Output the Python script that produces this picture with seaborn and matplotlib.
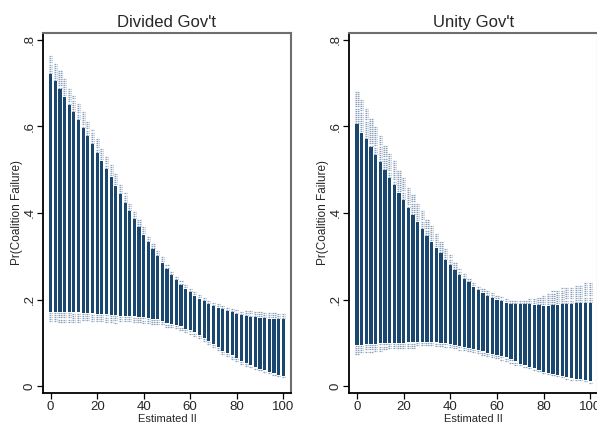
import numpy as np
import matplotlib
matplotlib.use("Agg")
import matplotlib.pyplot as plt
import seaborn as sns

# Estimated II values at which predictions were simulated
est_ii = list(range(0, 101, 2))

# Divided government: predicted range (bar) and outer confidence bounds (dashes)
div_hi = [0.721, 0.704, 0.687, 0.669, 0.650, 0.633, 0.615, 0.597, 0.578, 0.559,
          0.539, 0.521, 0.502, 0.484, 0.463, 0.443, 0.423, 0.404, 0.386, 0.367,
          0.350, 0.333, 0.316, 0.300, 0.285, 0.271, 0.257, 0.245, 0.234, 0.225,
          0.217, 0.209, 0.202, 0.196, 0.190, 0.185, 0.181, 0.177, 0.173, 0.170,
          0.167, 0.164, 0.162, 0.160, 0.159, 0.158, 0.157, 0.156, 0.156, 0.155,
          0.155]
div_lo = [0.172, 0.172, 0.171, 0.171, 0.171, 0.170, 0.170, 0.169, 0.169, 0.168,
          0.167, 0.167, 0.166, 0.165, 0.164, 0.163, 0.162, 0.162, 0.161, 0.160,
          0.159, 0.158, 0.156, 0.155, 0.150, 0.145, 0.143, 0.141, 0.138, 0.133,
          0.129, 0.124, 0.118, 0.112, 0.105, 0.098, 0.090, 0.082, 0.077, 0.071,
          0.065, 0.059, 0.053, 0.048, 0.043, 0.039, 0.036, 0.033, 0.029, 0.026,
          0.023]
div_ci_hi = [0.766, 0.748, 0.730, 0.711, 0.691, 0.673, 0.653, 0.634, 0.614, 0.593,
             0.572, 0.552, 0.532, 0.512, 0.490, 0.468, 0.447, 0.426, 0.407, 0.386,
             0.368, 0.350, 0.331, 0.314, 0.298, 0.283, 0.268, 0.256, 0.244, 0.235,
             0.227, 0.218, 0.211, 0.205, 0.199, 0.194, 0.191, 0.187, 0.184, 0.181,
             0.179, 0.176, 0.175, 0.173, 0.173, 0.172, 0.172, 0.171, 0.171, 0.171,
             0.171]
div_ci_lo = [0.146, 0.146, 0.146, 0.146, 0.147, 0.146, 0.147, 0.147, 0.147, 0.147,
             0.147, 0.147, 0.147, 0.147, 0.146, 0.146, 0.145, 0.146, 0.146, 0.145,
             0.145, 0.144, 0.143, 0.142, 0.138, 0.133, 0.132, 0.130, 0.127, 0.123,
             0.119, 0.114, 0.108, 0.102, 0.095, 0.089, 0.081, 0.073, 0.068, 0.062,
             0.056, 0.051, 0.045, 0.041, 0.036, 0.033, 0.030, 0.028, 0.024, 0.022,
             0.019]

# Unity government
uni_hi = [0.605, 0.586, 0.570, 0.553, 0.534, 0.517, 0.499, 0.481, 0.465, 0.447,
          0.430, 0.412, 0.395, 0.380, 0.363, 0.347, 0.334, 0.320, 0.307, 0.291,
          0.280, 0.268, 0.257, 0.247, 0.240, 0.230, 0.222, 0.216, 0.208, 0.203,
          0.200, 0.197, 0.193, 0.190, 0.189, 0.189, 0.189, 0.189, 0.188, 0.187,
          0.186, 0.186, 0.187, 0.188, 0.189, 0.190, 0.190, 0.191, 0.191, 0.192,
          0.192]
uni_lo = [0.095, 0.096, 0.097, 0.097, 0.098, 0.099, 0.099, 0.100, 0.100, 0.100,
          0.100, 0.101, 0.101, 0.102, 0.102, 0.102, 0.102, 0.101, 0.100, 0.099,
          0.097, 0.095, 0.092, 0.090, 0.088, 0.086, 0.083, 0.080, 0.077, 0.075,
          0.072, 0.069, 0.066, 0.062, 0.057, 0.052, 0.048, 0.045, 0.041, 0.037,
          0.033, 0.030, 0.028, 0.025, 0.023, 0.020, 0.018, 0.017, 0.016, 0.014,
          0.011]
uni_ci_hi = [0.680, 0.661, 0.641, 0.622, 0.601, 0.580, 0.559, 0.539, 0.522, 0.502,
             0.483, 0.462, 0.442, 0.425, 0.405, 0.387, 0.372, 0.356, 0.337, 0.318,
             0.304, 0.289, 0.274, 0.260, 0.250, 0.241, 0.232, 0.227, 0.221, 0.216,
             0.211, 0.207, 0.203, 0.200, 0.199, 0.200, 0.201, 0.203, 0.205, 0.207,
             0.210, 0.214, 0.219, 0.223, 0.226, 0.229, 0.231, 0.234, 0.236, 0.239,
             0.241]
uni_ci_lo = [0.072, 0.074, 0.076, 0.077, 0.079, 0.081, 0.082, 0.084, 0.085, 0.086,
             0.086, 0.088, 0.088, 0.090, 0.090, 0.091, 0.091, 0.091, 0.090, 0.089,
             0.088, 0.086, 0.083, 0.081, 0.079, 0.077, 0.073, 0.070, 0.067, 0.065,
             0.062, 0.060, 0.057, 0.054, 0.049, 0.045, 0.041, 0.039, 0.035, 0.031,
             0.028, 0.025, 0.023, 0.020, 0.018, 0.015, 0.014, 0.013, 0.012, 0.010,
             0.007]

panel_titles = ["Divided Gov't", "Unity Gov't"]
y_ticks = [0, 0.2, 0.4, 0.6, 0.8]
y_tick_labels = ["0", ".2", ".4", ".6", ".8"]
x_ticks = [0, 20, 40, 60, 80, 100]
x_tick_labels = ["0", "20", "40", "60", "80", "100"]

sns.set_theme(style="white")
plt.rcParams["font.family"] = ["Liberation Sans", "DejaVu Sans"]

BAR_COLOR = "#1a476f"
DASH_COLOR = "#8da2ba"
BAR_W = 1.35
DASH_STEP = 0.0048

fig = plt.figure(figsize=(5.97, 4.23), dpi=100)
fig.patch.set_facecolor("white")

panels = [
    (panel_titles[0], div_hi, div_lo, div_ci_hi, div_ci_lo, [0.072, 0.071, 0.4154, 0.851]),
    (panel_titles[1], uni_hi, uni_lo, uni_ci_hi, uni_ci_lo, [0.585, 0.071, 0.4166, 0.851]),
]

for title, hi, lo, ci_hi, ci_lo, rect in panels:
    ax = fig.add_axes(rect)
    x = np.asarray(est_ii, dtype=float)
    hi = np.asarray(hi); lo = np.asarray(lo)
    ci_hi = np.asarray(ci_hi); ci_lo = np.asarray(ci_lo)

    # stacked dashed caps tracing the simulated confidence band
    ys, xs0, xs1 = [], [], []
    for xi, h, l, ch, cl in zip(x, hi, lo, ci_hi, ci_lo):
        for lv in np.arange(h + DASH_STEP * 0.6, ch + 1e-9, DASH_STEP):
            ys.append(lv); xs0.append(xi - BAR_W / 2); xs1.append(xi + BAR_W / 2)
        for lv in np.arange(l - DASH_STEP * 0.6, cl - 1e-9, -DASH_STEP):
            ys.append(lv); xs0.append(xi - BAR_W / 2); xs1.append(xi + BAR_W / 2)
    ax.hlines(ys, xs0, xs1, colors=DASH_COLOR, linewidth=0.9,
              linestyles=(0, (1.4, 0.5)), zorder=2)

    # predicted range bars
    ax.bar(x, hi - lo, bottom=lo, width=BAR_W, color=BAR_COLOR,
           edgecolor="none", linewidth=0, zorder=3)

    ax.set_xlim(-3.3, 103.3)
    ax.set_ylim(-0.016, 0.816)
    ax.set_yticks(y_ticks)
    ax.set_yticklabels(y_tick_labels, rotation=90, va="center", fontsize=9.5)
    ax.set_xticks(x_ticks)
    ax.set_xticklabels(x_tick_labels, fontsize=9.5)
    ax.tick_params(axis="both", direction="out", length=4, width=0.9,
                   color="black", pad=1.5, bottom=True, left=True)
    ax.set_ylabel("Pr(Coalition Failure)", fontsize=8.5)
    ax.yaxis.set_label_coords(-0.105, 0.5)
    ax.yaxis.label.set_va("center")
    ax.set_xlabel("Estimated II", fontsize=8)
    ax.xaxis.set_label_coords(0.5, -0.072)
    ax.xaxis.label.set_va("center")
    ax.set_title(title, fontsize=12, pad=4)
    ax.grid(False)
    for side in ("left", "bottom"):
        ax.spines[side].set_color("black")
        ax.spines[side].set_linewidth(1.3)
    for side in ("top", "right"):
        ax.spines[side].set_color("#6e6e6e")
        ax.spines[side].set_linewidth(1.5)

fig.savefig("out.png", dpi=100, facecolor="white")
